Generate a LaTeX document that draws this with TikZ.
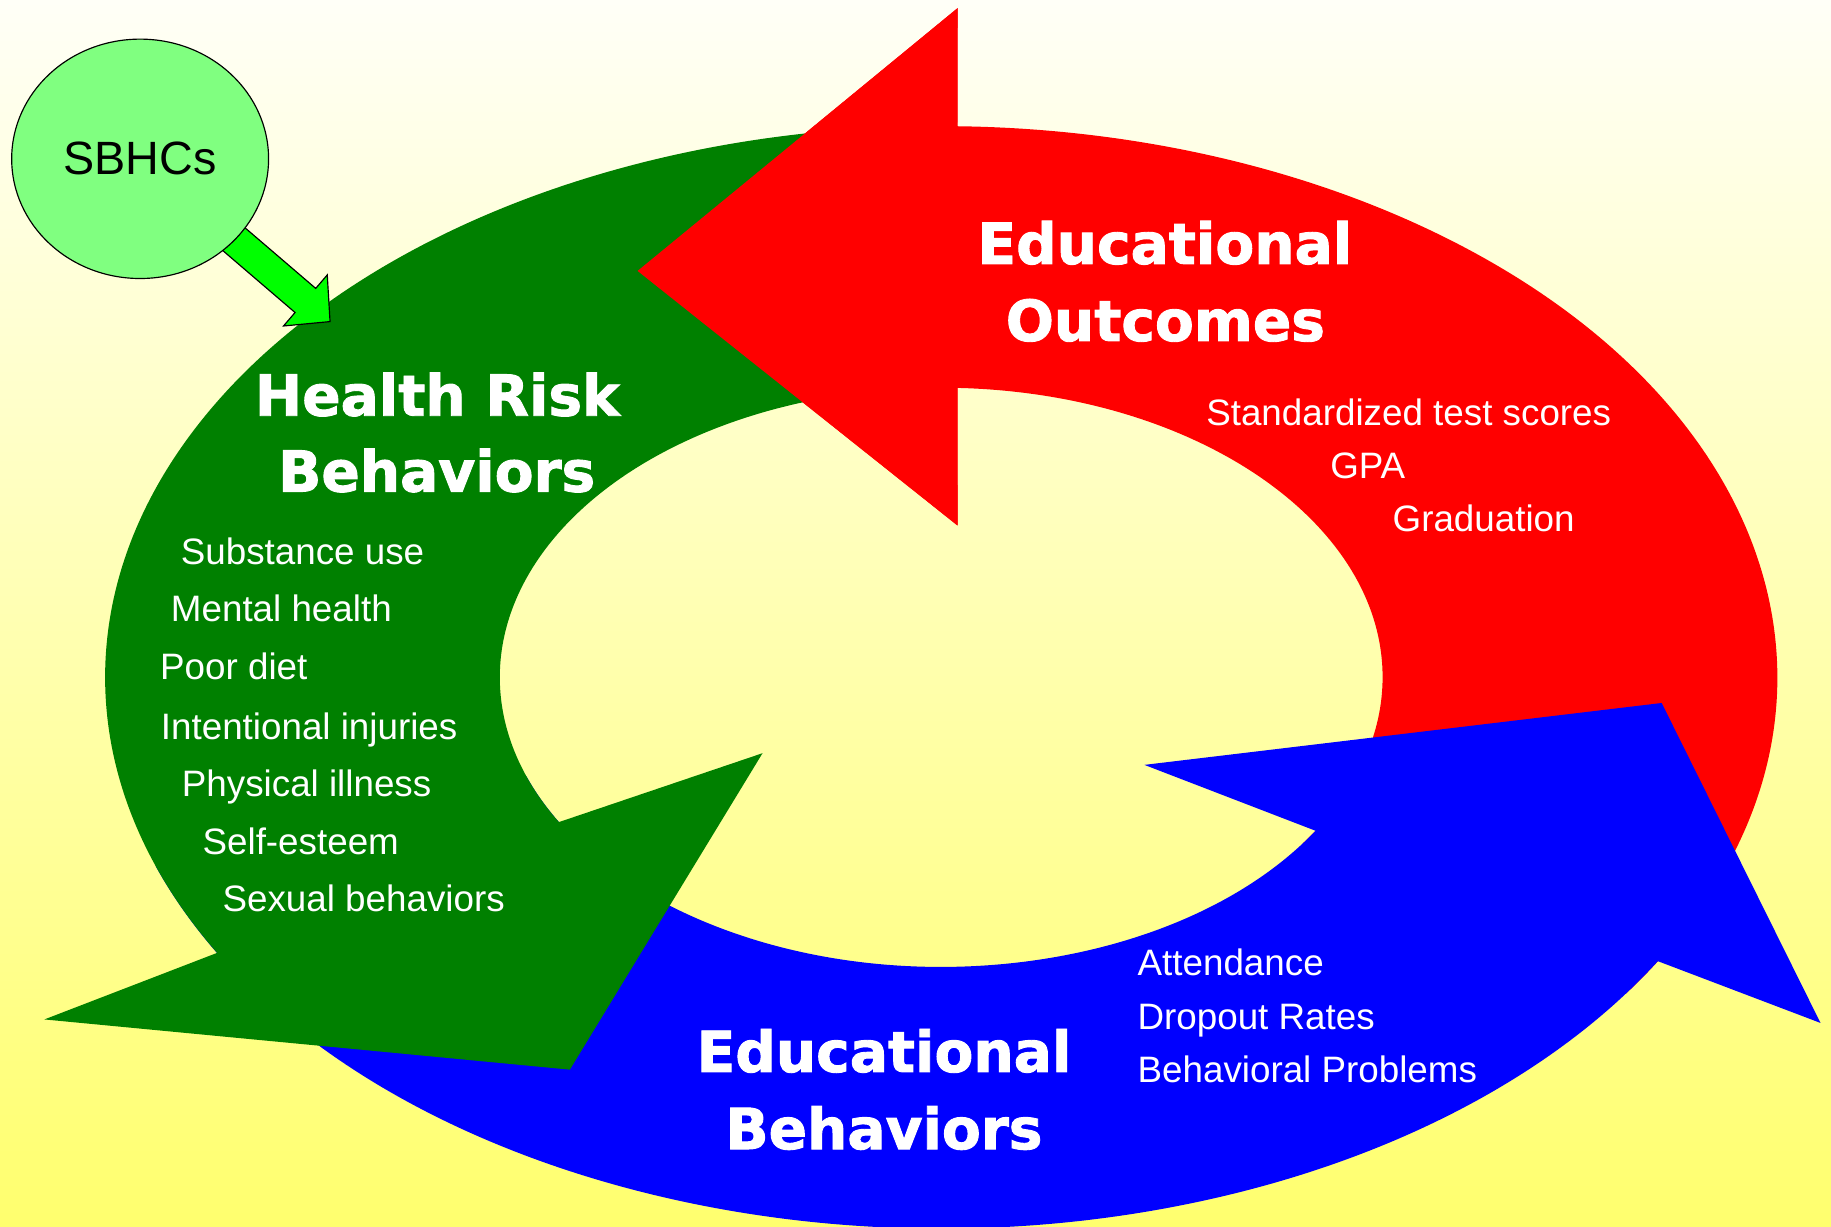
\documentclass[tikz,border=0pt]{standalone}
\usepackage{fontspec}
\setmainfont{Liberation Sans}
\newfontfamily\headfont{DejaVu Sans}[BoldFeatures={FakeBold=1.6}]
\usetikzlibrary{calc,shapes.geometric}
\definecolor{bgtop}{HTML}{FFFFF7}
\definecolor{bgbottom}{HTML}{FFFF6E}
\definecolor{riskgreen}{HTML}{008000}
\definecolor{outred}{HTML}{FF0000}
\definecolor{behblue}{HTML}{0000FF}
\definecolor{clinic}{HTML}{80FF80}
\definecolor{feed}{HTML}{00FF00}

\tikzset{
  cycletitle/.style={text=white,font=\headfont\bfseries\fontsize{48.5pt}{58pt}\selectfont,anchor=base,inner sep=0pt},
  cycleitem/.style={text=white,font=\fontsize{31.5pt}{38pt}\selectfont,anchor=base west,inner sep=0pt},
}

\begin{document}
\begin{tikzpicture}[x=1pt,y=-1pt]
\useasboundingbox (0,0) rectangle (1568,1050);
\fill[top color=bgtop,bottom color=bgbottom] (0,0) rectangle (1568,1050);

\coordinate (ring) at (806,580);

% Educational Outcomes
\fill[outred] ($(ring)+(35:716 and 472)$) arc[start angle=35,end angle=-88.9,x radius=716,y radius=472]
  -- (820,7) -- (546,232) -- (820,450) -- ($(ring)+(-87.9:378 and 248)$)
  arc[start angle=-87.9,end angle=35,x radius=378,y radius=248] -- cycle;

% Educational Behaviors
\fill[behblue] ($(ring)+(160:716 and 472)$) arc[start angle=160,end angle=31,x radius=716,y radius=472]
  -- (1559,876) -- (1423,602) -- (980,655) -- ($(ring)+(32:378 and 248)$)
  arc[start angle=32,end angle=160,x radius=378,y radius=248] -- cycle;

% Health Risk Behaviors
\fill[riskgreen] ($(ring)+(265:716 and 472)$) arc[start angle=265,end angle=150,x radius=716,y radius=472]
  -- (38,873) -- (488,916) -- (653,645) -- ($(ring)+(150:378 and 248)$)
  arc[start angle=150,end angle=265,x radius=378,y radius=248] -- cycle;

% red head lies over the green tail
\fill[outred] (820,7) -- (546,232) -- (820,450) -- cycle;

\coordinate (sbhcpos) at (120,136);
\begin{scope}[shift={(sbhcpos)},rotate=-40.6]
  \draw[fill=feed,line width=1pt] (0,-13.6) -- (186.4,-13.6) -- (186.4,-28.8) -- (214.2,0)
    -- (186.4,28.8) -- (186.4,13.6) -- (0,13.6) -- cycle;
\end{scope}
\node[ellipse,draw=black,line width=1pt,fill=clinic,minimum width=220pt,minimum height=205pt,
  font=\fontsize{40pt}{48pt}\selectfont] (sbhc) at (sbhcpos) {SBHCs};

\node[cycletitle] (outA) at (997.5,226) {Educational};
\node[cycletitle] (outB) at (998,292) {Outcomes};
\node[cycletitle] (riskA) at (374.5,356) {Health Risk};
\node[cycletitle] (riskB) at (374,421) {Behaviors};
\node[cycletitle] (behA) at (757,918) {Educational};
\node[cycletitle] (behB) at (757,984) {Behaviors};

\node[cycleitem] (r1) at (154.7,483) {Substance use};
\node[cycleitem] (r2) at (146.2,532.4) {Mental health};
\node[cycleitem] (r3) at (137,582.3) {Poor diet};
\node[cycleitem] (r4) at (137.6,632.9) {Intentional injuries};
\node[cycleitem] (r5) at (155.6,682.3) {Physical illness};
\node[cycleitem] (r6) at (173.3,731.4) {Self-esteem};
\node[cycleitem] (r7) at (190.4,780.7) {Sexual behaviors};

\node[cycleitem] (o1) at (1032.8,364) {Standardized test scores};
\node[cycleitem] (o2) at (1139,409.6) {GPA};
\node[cycleitem] (o3) at (1192.4,455.3) {Graduation};

\node[cycleitem] (b1) at (974,835.5) {Attendance};
\node[cycleitem] (b2) at (974,881.2) {Dropout Rates};
\node[cycleitem] (b3) at (974,926.9) {Behavioral Problems};
\end{tikzpicture}
\end{document}
